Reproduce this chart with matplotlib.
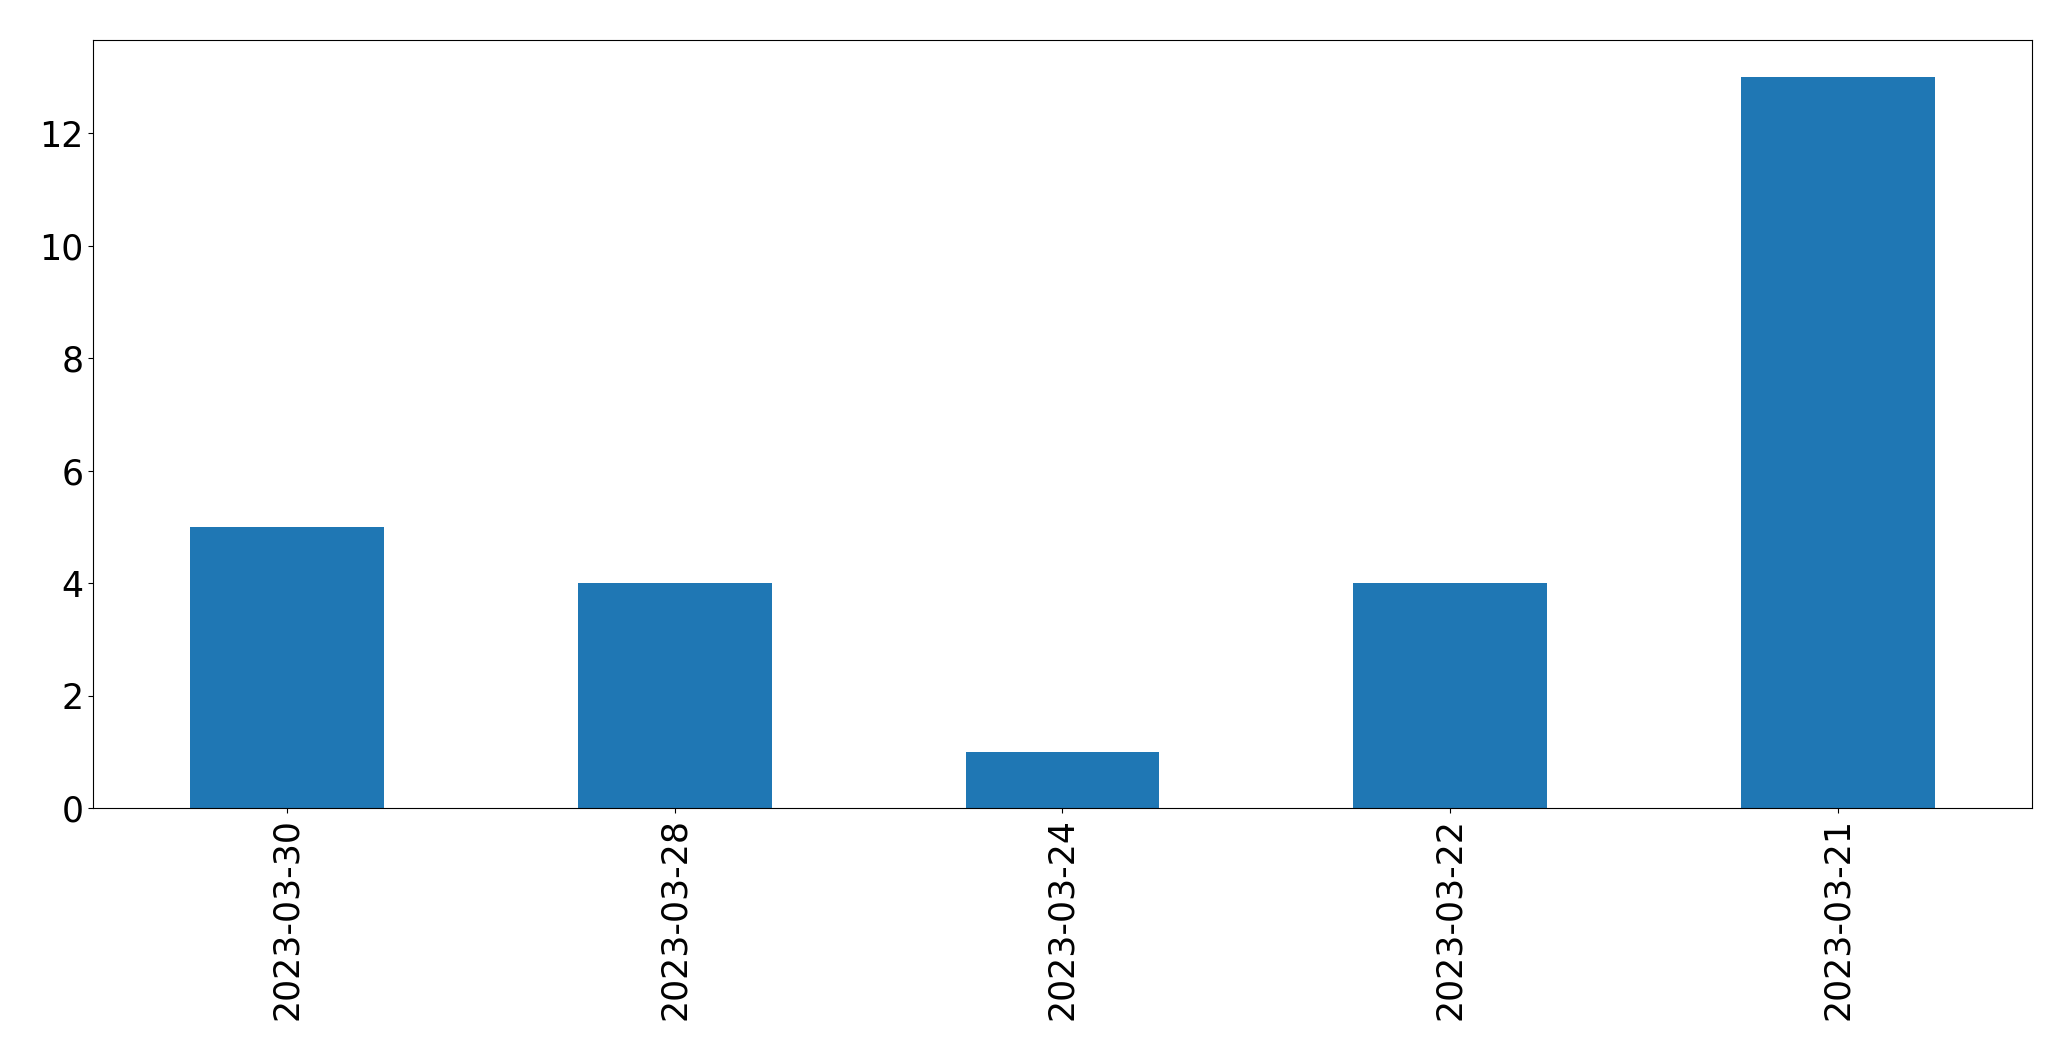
import matplotlib
matplotlib.use('Agg')
import matplotlib.pyplot as plt
import numpy as np

dates = ['2023-03-30', '2023-03-28', '2023-03-24', '2023-03-22', '2023-03-21']
counts = [5, 4, 1, 4, 13]

fig, ax = plt.subplots(figsize=(20.71, 10.61), dpi=100)
x = np.arange(len(dates))
ax.bar(x, counts, width=0.5, color='#1f77b4')
ax.set_xticks(x)
ax.set_xticklabels(dates, rotation=90)
ax.set_xlim(-0.5, len(dates) - 0.5)
ax.tick_params(labelsize=25)
fig.subplots_adjust(left=0.045, right=0.981, top=0.962, bottom=0.238)
fig.savefig('out.png')
